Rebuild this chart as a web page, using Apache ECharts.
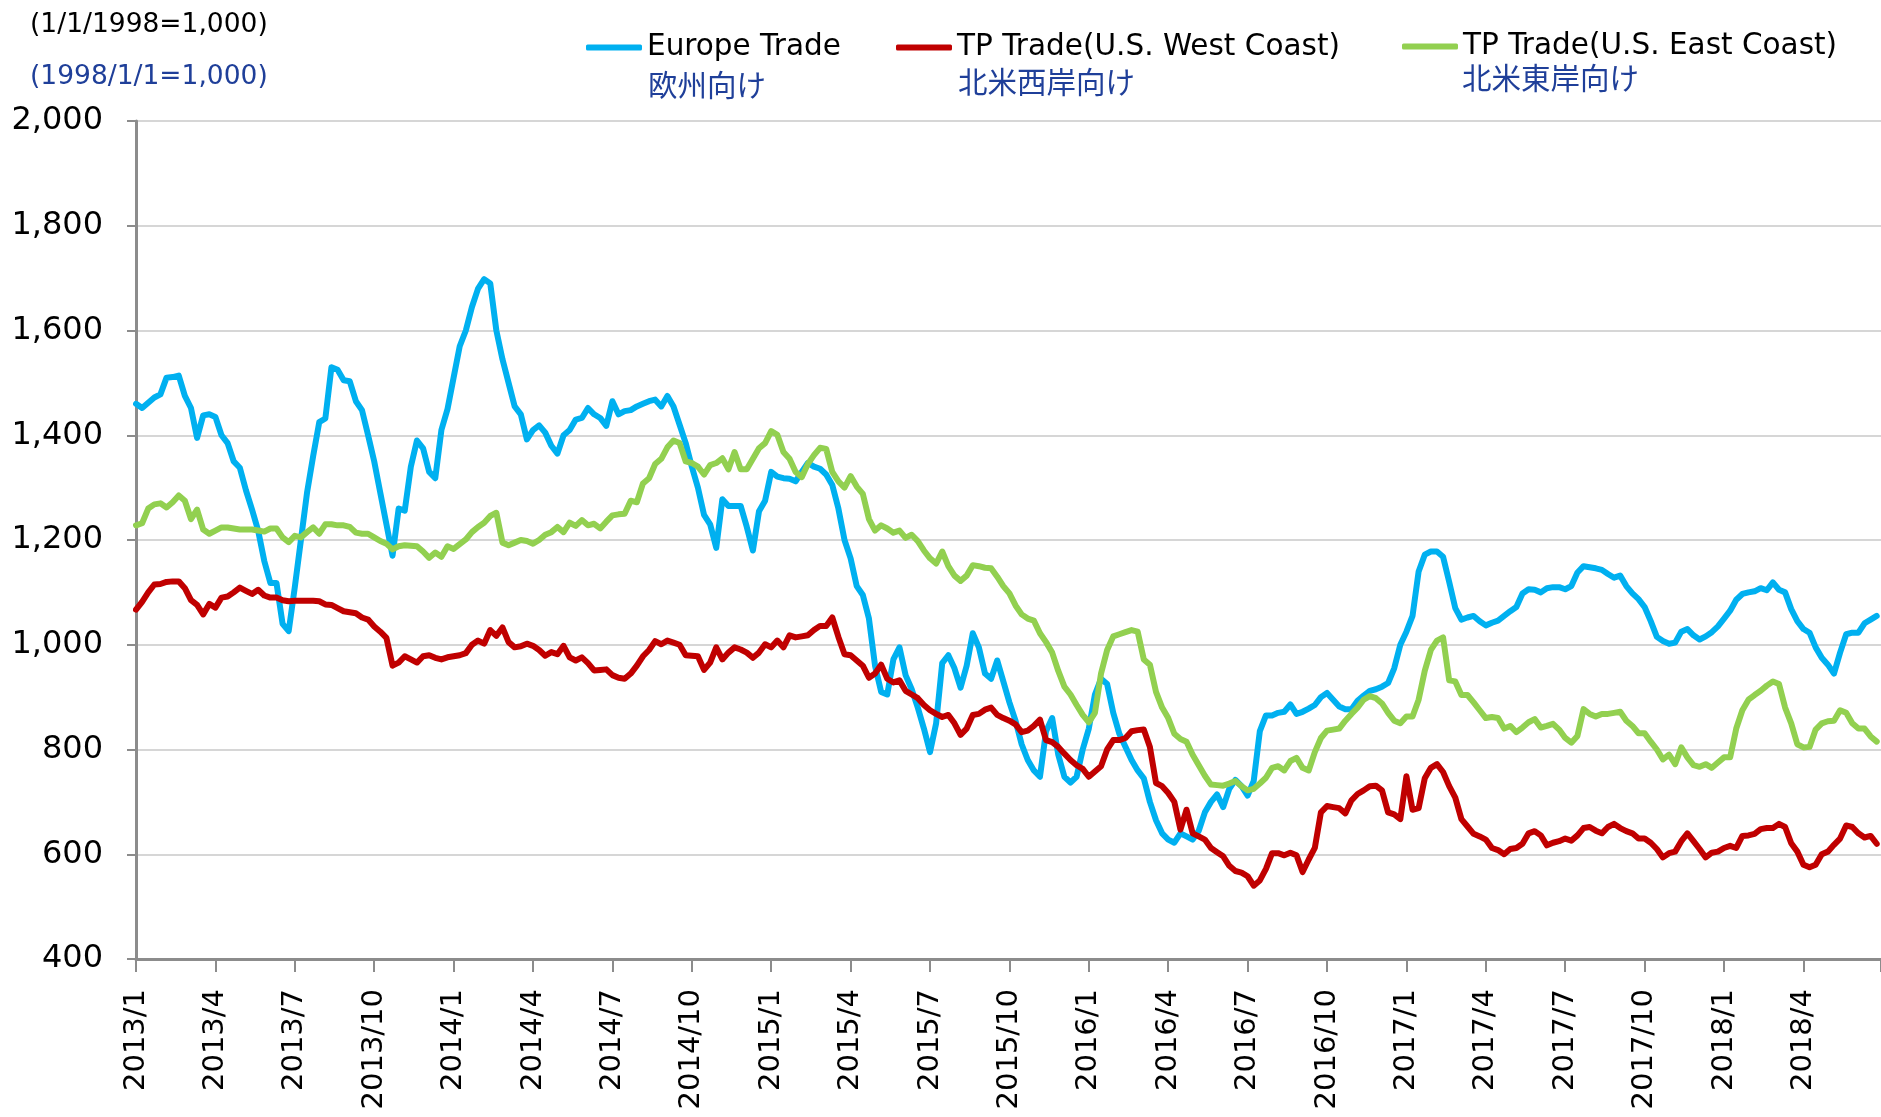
<!DOCTYPE html>
<html>
<head>
<meta charset="utf-8">
<script src="https://cdn.jsdelivr.net/npm/echarts@6/dist/echarts.min.js"></script>
<style>
html,body{margin:0;padding:0;background:#fff;}
#c{width:1881px;height:1117px;}
</style>
</head>
<body>
<div id="c"></div>
<script>
// Weekly index values, first week of Jan 2013 = week 0
const xTickLabels = ['2013/1','2013/4','2013/7','2013/10','2014/1','2014/4','2014/7','2014/10',
  '2015/1','2015/4','2015/7','2015/10','2016/1','2016/4','2016/7','2016/10',
  '2017/1','2017/4','2017/7','2017/10','2018/1','2018/4'];
const weeksPerQuarter = 13;

const europeTrade = [
1460,1452,1462,1472,1478,1510,1511,1514,1475,1452,
1395,1438,1440,1435,1400,1385,1350,1338,1295,1258,
1218,1160,1118,1118,1040,1026,1110,1200,1290,1360,
1425,1432,1530,1525,1505,1503,1465,1448,1400,1350,
1290,1230,1170,1260,1256,1340,1390,1375,1330,1318,
1410,1450,1510,1570,1600,1645,1680,1698,1690,1600,
1545,1500,1455,1440,1392,1410,1419,1405,1380,1365,
1400,1410,1430,1433,1452,1440,1433,1418,1465,1440,
1446,1448,1455,1460,1465,1468,1455,1475,1455,1420,
1385,1340,1300,1248,1230,1185,1278,1265,1265,1265,
1225,1180,1255,1275,1330,1321,1318,1317,1312,1330,
1347,1340,1336,1325,1305,1260,1200,1165,1112,1095,
1050,960,910,905,972,995,942,915,880,840,
795,850,965,980,955,918,960,1022,995,945,
935,970,930,890,855,810,780,760,748,835,
860,790,748,737,748,800,840,905,935,925,
870,830,805,780,760,745,700,665,640,628,
622,640,634,628,645,680,700,714,690,725,
742,730,712,740,835,865,865,870,872,886,
868,872,878,885,900,908,895,882,877,877,
893,903,912,915,920,927,955,1000,1025,1055,
1140,1172,1178,1178,1168,1120,1070,1048,1052,1055,
1045,1037,1042,1046,1055,1064,1072,1098,1106,1105,
1100,1108,1110,1110,1106,1112,1138,1150,1148,1146,
1143,1135,1128,1132,1112,1098,1087,1072,1045,1015,
1007,1002,1004,1025,1030,1018,1010,1016,1024,1035,
1050,1065,1086,1097,1100,1102,1108,1104,1119,1105,
1100,1068,1045,1030,1023,995,975,962,945,985,
1020,1023,1023,1041,1048,1055];

const westCoast = [
1067,1082,1100,1115,1116,1120,1121,1121,1108,1085,
1076,1058,1078,1071,1090,1092,1100,1109,1103,1097,
1105,1094,1090,1090,1085,1083,1084,1084,1084,1084,
1083,1077,1076,1070,1064,1062,1060,1052,1048,1035,
1025,1013,960,966,978,972,966,978,980,975,
972,976,978,980,984,1000,1008,1002,1028,1017,
1033,1005,995,997,1002,998,990,979,986,982,
998,976,970,976,965,951,952,953,942,937,
935,945,960,978,990,1007,1001,1008,1004,1000,
980,979,978,952,966,995,972,985,995,991,
985,975,985,1001,995,1008,995,1018,1014,1016,
1018,1028,1036,1036,1052,1015,982,980,970,960,
937,945,962,935,928,932,912,905,898,885,
875,868,862,866,850,828,840,866,868,876,
880,866,860,855,848,833,836,845,857,818,
814,805,792,780,770,763,748,758,768,800,
818,818,822,835,837,838,805,736,730,717,
700,647,685,640,634,628,612,604,596,578,
568,565,558,540,550,572,602,602,598,603,
598,566,590,612,680,692,690,688,678,703,
715,722,730,731,722,680,676,667,749,685,
688,745,765,772,757,730,708,667,653,639,
634,628,612,608,600,610,612,620,640,644,
636,617,622,625,630,626,636,650,652,645,
640,652,658,650,644,640,630,630,622,610,
594,602,605,625,640,625,610,594,603,605,
612,616,612,635,636,639,648,650,650,658,
652,621,605,580,575,580,600,605,618,630,
655,652,640,632,635,620];

const eastCoast = [
1228,1232,1260,1268,1270,1262,1272,1285,1275,1240,
1258,1220,1212,1218,1224,1224,1222,1220,1220,1220,
1218,1216,1222,1222,1205,1196,1208,1205,1215,1224,
1212,1230,1230,1228,1228,1225,1214,1212,1212,1205,
1198,1193,1182,1188,1190,1189,1188,1178,1166,1176,
1168,1188,1183,1192,1201,1215,1225,1233,1246,1252,
1195,1190,1195,1200,1198,1193,1200,1210,1215,1225,
1215,1233,1227,1238,1228,1231,1222,1235,1247,1249,
1250,1275,1272,1308,1318,1345,1355,1377,1390,1385,
1350,1347,1340,1325,1343,1347,1356,1335,1368,1335,
1335,1355,1375,1385,1408,1401,1368,1355,1330,1320,
1345,1362,1376,1374,1330,1312,1300,1322,1302,1288,
1240,1218,1228,1222,1214,1218,1204,1210,1198,1180,
1165,1155,1178,1150,1132,1122,1132,1152,1150,1147,
1146,1130,1112,1098,1075,1058,1050,1046,1022,1005,
985,950,920,905,885,866,852,870,945,990,
1016,1020,1024,1028,1025,972,962,910,880,860,
830,820,815,790,770,750,733,732,731,735,
740,730,722,725,735,746,765,768,760,778,
784,765,760,795,822,836,838,840,855,868,
880,895,902,898,888,870,855,850,863,863,
895,950,990,1008,1014,932,930,904,904,890,
875,860,862,860,840,845,833,842,852,858,
842,845,849,838,822,813,826,877,868,863,
868,868,870,872,855,845,831,831,815,800,
781,790,772,804,785,770,767,772,765,775,
785,785,840,875,895,904,912,922,930,925,
880,850,810,804,805,838,850,854,855,875,
870,850,840,840,825,815];

const seriesNames = ['Europe Trade','TP Trade(U.S. West Coast)','TP Trade(U.S. East Coast)'];
const seriesJapanese = ['欧州向け','北米西岸向け','北米東岸向け'];
const seriesColors = ['#00B0F0','#C00000','#92D050'];
const noteEn = '(1/1/1998=1,000)';
const noteJp = '(1998/1/1=1,000)';

const FONT = 'Verdana, "DejaVu Sans", sans-serif';
const JPFONT = '"Noto Sans CJK JP", sans-serif';
const BLUE_TEXT = '#1F3F99';

const toPts = arr => arr.map((v, i) => [i, v]);
const allSeries = [europeTrade, westCoast, eastCoast];

const chart = echarts.init(document.getElementById('c'), null, {renderer: 'canvas'});

const legendLeft = [586, 896, 1402];
const legendTop = [32, 32, 31];
const jpY = [85, 82, 78];
const textLeft = [648, 958, 1462];

chart.setOption({
  animation: false,
  backgroundColor: '#ffffff',
  grid: {left: 136, right: 0, top: 121, bottom: 158, containLabel: false},
  legend: seriesNames.map((n, i) => ({
    data: [n], left: legendLeft[i], top: legendTop[i], padding: 0,
    icon: 'roundRect', itemWidth: 56, itemHeight: 6,
    textStyle: {fontFamily: FONT, fontSize: 29.5, color: '#000', lineHeight: 31}
  })),
  xAxis: {
    type: 'value', min: 0, max: 285.7, interval: weeksPerQuarter,
    axisLine: {show: true, onZero: false, lineStyle: {color: '#8c8c8c', width: 3}},
    axisTick: {show: true, length: 13, lineStyle: {color: '#8c8c8c', width: 2}},
    axisLabel: {
      rotate: 90, margin: 30, fontFamily: FONT, fontSize: 29, color: '#000',
      formatter: v => {
        const i = Math.round(v / weeksPerQuarter);
        return (Math.abs(v - i * weeksPerQuarter) < 1e-6 && i < xTickLabels.length) ? xTickLabels[i] : '';
      }
    },
    splitLine: {show: false}
  },
  yAxis: {
    type: 'value', min: 400, max: 2000, interval: 200,
    axisLine: {show: true, lineStyle: {color: '#8c8c8c', width: 3}},
    axisTick: {show: true, length: 9, lineStyle: {color: '#8c8c8c', width: 2}},
    axisLabel: {
      margin: 33, fontFamily: FONT, fontSize: 32, color: '#000',
      formatter: v => v.toLocaleString('en-US')
    },
    splitLine: {show: true, lineStyle: {color: '#c8c8c8', width: 1.5}}
  },
  series: allSeries.map((arr, i) => ({
    name: seriesNames[i], type: 'line', data: toPts(arr),
    symbol: 'none', showSymbol: false, smooth: false,
    color: seriesColors[i],
    lineStyle: {color: seriesColors[i], width: 6, join: 'round', cap: 'round'},
    z: 2 + i
  })),
  graphic: [
    {type: 'text', x: 30, y: 25, style: {text: noteEn, font: '26.5px ' + FONT, fill: '#000', verticalAlign: 'middle'}},
    {type: 'text', x: 30, y: 77, style: {text: noteJp, font: '26.5px ' + FONT, fill: BLUE_TEXT, verticalAlign: 'middle'}}
  ].concat(seriesJapanese.map((t, i) => ({
    type: 'text', x: textLeft[i], y: jpY[i],
    style: {text: t, font: '29.5px ' + JPFONT, fill: BLUE_TEXT, verticalAlign: 'middle'}
  })))
});
</script>
</body>
</html>
